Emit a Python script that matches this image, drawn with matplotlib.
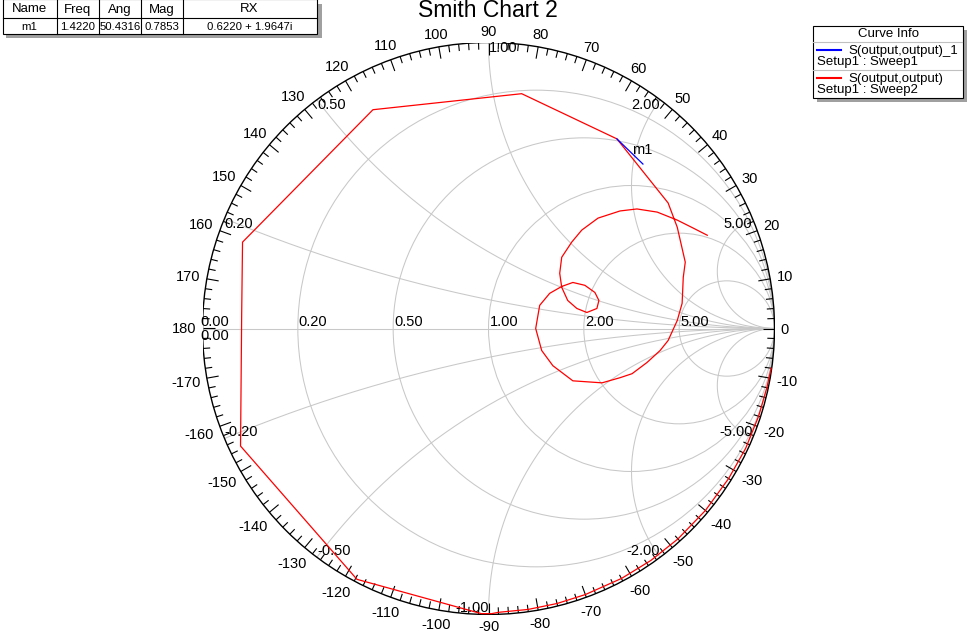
import numpy as np
import matplotlib
matplotlib.use('Agg')
import matplotlib.pyplot as plt
from matplotlib.patches import Circle, Rectangle
from matplotlib.collections import LineCollection

plt.rcParams['font.family'] = ['Liberation Sans', 'DejaVu Sans']

# S(output,output), Setup1 : Sweep2 (red)
# first part runs along the rim: magnitude and angle (deg) of gamma
red_arc_mag = [0.998, 0.995, 0.993, 0.992, 0.990, 0.990, 0.990, 0.990, 0.990, 0.990, 0.991, 0.992, 0.993]
red_arc_deg = [-8, -12, -18, -25, -32, -40, -48, -55, -62, -70, -76, -82, -88]
# rest of the trace, real / imag of gamma
red_re = [0.011, -0.025, -0.460, -0.867, -0.863, -0.860, -0.404, 0.116, 0.449, 0.628,
          0.660, 0.688, 0.681, 0.677, 0.660, 0.628, 0.600, 0.554, 0.502, 0.460,
          0.397, 0.295, 0.225, 0.186, 0.165, 0.179, 0.214, 0.256, 0.295, 0.337,
          0.372, 0.386, 0.379, 0.344, 0.309, 0.277, 0.256, 0.249, 0.256, 0.291,
          0.326, 0.383, 0.460, 0.519, 0.590, 0.660, 0.716, 0.765]
red_im = [-0.997, -0.997, -0.877, -0.411, 0.053, 0.302, 0.765, 0.821, 0.663, 0.439,
          0.354, 0.232, 0.179, 0.088, 0.028, -0.042, -0.077, -0.119, -0.158, -0.172,
          -0.190, -0.183, -0.130, -0.077, 0.000, 0.081, 0.123, 0.147, 0.161, 0.151,
          0.126, 0.098, 0.070, 0.056, 0.070, 0.098, 0.144, 0.193, 0.249, 0.302,
          0.344, 0.386, 0.411, 0.418, 0.407, 0.379, 0.351, 0.326]

# S(output,output)_1, Setup1 : Sweep1 (blue)
blue_re = [0.449, 0.540]
blue_im = [0.663, 0.575]

# marker table
table_cols = ['Name', 'Freq', 'Ang', 'Mag', 'RX']
table_row = ['m1', '1.4220', '50.4316', '0.7853', '0.6220 + 1.9647i']
marker_ang = 50.4316
marker_mag = 0.7853

grid_vals = [0.2, 0.5, 1.0, 2.0, 5.0]
angle_ticks = list(range(-170, 190, 10))

W, H = 972, 633
cx, cy, R = 488.5, 328.5, 286
px = 1.0 / R

fig = plt.figure(figsize=(W / 100, H / 100), dpi=100)
ax = fig.add_axes([(cx - R) / W, (H - cy - R) / H, 2 * R / W, 2 * R / H])
ax.set_xlim(-1, 1)
ax.set_ylim(-1, 1)
ax.axis('off')

# grid
gc = '#c8c8c8'
ax.plot([-1, 1], [0, 0], color=gc, lw=0.75, zorder=1)
for r in grid_vals:
    ax.add_patch(Circle((r / (1 + r), 0), 1 / (1 + r), fill=False, ec=gc, lw=0.75, zorder=1))
t = np.concatenate([[0], np.logspace(-3, 4, 500)])
for x in grid_vals:
    for s in (1, -1):
        g = (t + 1j * s * x - 1) / (t + 1j * s * x + 1)
        ax.plot(g.real, g.imag, color=gc, lw=0.75, zorder=1)

# rim and ticks
ax.add_patch(Circle((0, 0), 1, fill=False, ec='black', lw=1, zorder=3))
segs = []
for d in range(-178, 181, 2):
    a = np.radians(d)
    L = 12 if d % 10 == 0 else 7
    segs.append([(np.cos(a), np.sin(a)), ((1 - L * px) * np.cos(a), (1 - L * px) * np.sin(a))])
ax.add_collection(LineCollection(segs, colors='black', lw=0.8, zorder=3))

fs = 10.5
for d in angle_ticks:
    a = np.radians(d)
    lab = str(d)
    w = 8.1 * len(lab.replace('-', '')) + (4.9 if d < 0 else 0)
    dist = R + 6 + abs(np.cos(a)) * w / 2 + abs(np.sin(a)) * 5.5
    ax.text(dist * np.cos(a) / R, dist * np.sin(a) / R - 1 * px, lab, ha='center', va='center',
            fontsize=fs, clip_on=False)

# resistance labels
ax.text(-1 - 2 * px, 2 * px, '0.00', ha='left', va='baseline', fontsize=fs)
ax.text(-1 - 2 * px, -1 * px, '0.00', ha='left', va='top', fontsize=fs)
for r in grid_vals:
    ax.text((r - 1) / (r + 1) + 1 * px, 2 * px, '%.2f' % r, ha='left', va='baseline', fontsize=fs)

# reactance labels
for x in grid_vals:
    g = (1j * x - 1) / (1j * x + 1)
    ha = 'left' if x <= 1 else 'right'
    ax.text(g.real, g.imag + 2 * px, '%.2f' % x, ha=ha, va='top', fontsize=fs)
    ha = 'left' if x < 1 else 'right'
    ax.text(g.real, -g.imag + 2 * px, '-%.2f' % x, ha=ha, va='baseline', fontsize=fs)

# curves
arc = np.array(red_arc_mag) * np.exp(1j * np.radians(red_arc_deg))
rx = np.concatenate([arc.real, red_re])
ry = np.concatenate([arc.imag, red_im])
ax.plot(rx, ry, color='red', lw=0.9, zorder=4)
ax.plot(blue_re, blue_im, color='blue', lw=0.9, zorder=5)

mr = marker_mag * np.cos(np.radians(marker_ang))
mi = marker_mag * np.sin(np.radians(marker_ang))
ax.text(mr, mi + 5 * px, 'm1', ha='left', va='center', fontsize=fs, zorder=6)

fig.text(488 / W, 1 - 17 / H, 'Smith Chart 2', ha='center', va='baseline', fontsize=16.5)

# overlay in pixel coordinates for table and legend
ov = fig.add_axes([0, 0, 1, 1], zorder=10)
ov.set_xlim(0, W)
ov.set_ylim(H, 0)
ov.axis('off')
ov.patch.set_alpha(0)

shadow = '#a0a0a0'
ov.add_patch(Rectangle((6, 4), 316, 34, fc=shadow, ec='none'))
ov.add_patch(Rectangle((2.5, -1), 314, 34.5, fc='white', ec='black', lw=0.8))
ov.plot([2.5, 316.5], [18, 18], color='black', lw=0.8)
col_edges = [2.5, 56.7, 99, 141, 182.7, 316.5]
for xe in col_edges[1:-1]:
    ov.plot([xe, xe], [-1, 33.5], color='black', lw=0.8)
for i in range(len(table_cols)):
    xc = (col_edges[i] + col_edges[i + 1]) / 2
    ov.text(xc, 12.5, table_cols[i], ha='center', va='baseline', fontsize=9.5)
    ov.text(xc, 29.5, table_row[i], ha='center', va='baseline', fontsize=8.2)

lfs = 9.5
ov.add_patch(Rectangle((817, 30), 150, 72, fc=shadow, ec='none'))
ov.add_patch(Rectangle((812.5, 26), 150, 71.5, fc='white', ec='black', lw=0.8))
ov.plot([813, 962], [42.3, 42.3], color='#c0c0c0', lw=0.8)
ov.plot([813, 962], [70, 70], color='#c0c0c0', lw=0.8)
ov.text(888, 37, 'Curve Info', ha='center', va='baseline', fontsize=lfs)
ov.plot([817, 841], [50, 50], color='blue', lw=1.5)
ov.text(848, 54, 'S(output,output)_1', ha='left', va='baseline', fontsize=lfs)
ov.text(817, 64.5, 'Setup1 : Sweep1', ha='left', va='baseline', fontsize=lfs)
ov.plot([817, 841], [78.3, 78.3], color='red', lw=1.5)
ov.text(848, 82, 'S(output,output)', ha='left', va='baseline', fontsize=lfs)
ov.text(817, 92.5, 'Setup1 : Sweep2', ha='left', va='baseline', fontsize=lfs)

fig.savefig('out.png', dpi=100)
